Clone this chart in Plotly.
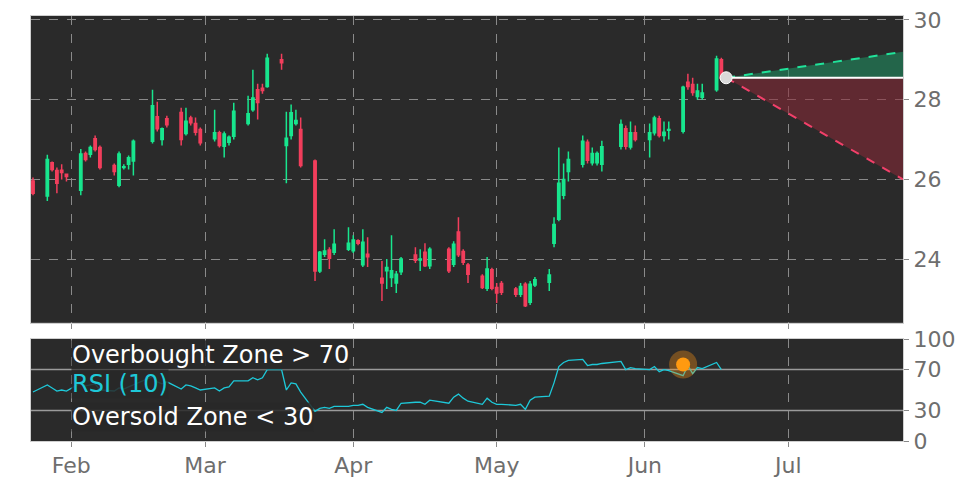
import pandas as pd
import plotly.graph_objects as go
from plotly.subplots import make_subplots

# ── daily candles ──────────────────────────────────────────────
dates = ["2025-01-24", "2025-01-27", "2025-01-28", "2025-01-29", "2025-01-30", "2025-01-31",
         "2025-02-03", "2025-02-04", "2025-02-05", "2025-02-06", "2025-02-07",
         "2025-02-10", "2025-02-11", "2025-02-12", "2025-02-13", "2025-02-14",
         "2025-02-18", "2025-02-19", "2025-02-20", "2025-02-21",
         "2025-02-24", "2025-02-25", "2025-02-26", "2025-02-27", "2025-02-28",
         "2025-03-03", "2025-03-04", "2025-03-05", "2025-03-06", "2025-03-07",
         "2025-03-10", "2025-03-11", "2025-03-12", "2025-03-13", "2025-03-14",
         "2025-03-17", "2025-03-18", "2025-03-19", "2025-03-20", "2025-03-21",
         "2025-03-24", "2025-03-25", "2025-03-26", "2025-03-27", "2025-03-28",
         "2025-03-31", "2025-04-01", "2025-04-02", "2025-04-03", "2025-04-04",
         "2025-04-07", "2025-04-08", "2025-04-09", "2025-04-10", "2025-04-11",
         "2025-04-14", "2025-04-15", "2025-04-16", "2025-04-17",
         "2025-04-21", "2025-04-22", "2025-04-23", "2025-04-24", "2025-04-25",
         "2025-04-28", "2025-04-29", "2025-04-30", "2025-05-01", "2025-05-02",
         "2025-05-05", "2025-05-06", "2025-05-07", "2025-05-08", "2025-05-09",
         "2025-05-12", "2025-05-13", "2025-05-14", "2025-05-15", "2025-05-16",
         "2025-05-19", "2025-05-20", "2025-05-21", "2025-05-22", "2025-05-23",
         "2025-05-27", "2025-05-28", "2025-05-29", "2025-05-30",
         "2025-06-02", "2025-06-03", "2025-06-04", "2025-06-05", "2025-06-06",
         "2025-06-09", "2025-06-10", "2025-06-11", "2025-06-12", "2025-06-13",
         "2025-06-16", "2025-06-17"]
opens = [25.96, 25.58, 26.42, 26.22, 26.23, 26.13,
         25.73, 26.65, 26.63, 27.02, 26.80,
         26.35, 25.85, 26.30, 26.38, 26.46,
         26.96, 27.57, 27.00, 27.52,
         27.68, 27.15, 27.54, 27.40, 27.25,
         27.02, 27.17, 26.83, 26.93, 27.08,
         27.40, 27.75, 28.25, 28.29, 28.33,
         29.00, 26.85, 27.10, 27.40, 27.25,
         26.46, 23.70, 24.12, 24.23, 24.17,
         24.25, 24.21, 24.46, 23.86, 24.12,
         23.52, 23.71, 23.54, 23.40, 23.68,
         24.10, 23.98, 24.17, 23.83,
         24.25, 23.87, 24.68, 24.19, 23.85,
         23.57, 23.27, 23.73, 23.29, 23.39,
         23.25, 23.12, 23.37, 22.92, 23.35,
         23.42, 24.40, 25.00, 25.60, 26.20,
         26.38, 26.93, 26.42, 26.42, 26.38,
         26.83, 27.27, 26.81, 27.17,
         27.00, 27.17, 27.52, 27.10, 27.23,
         27.21, 28.44, 28.38, 28.08, 28.06,
         28.25, 29.00]
highs = [26.05, 26.62, 26.45, 26.30, 26.38, 26.15,
         26.76, 26.70, 26.85, 27.10, 26.85,
         26.40, 26.70, 26.38, 26.60, 27.00,
         28.25, 27.95, 27.30, 27.60,
         27.80, 27.80, 27.60, 27.55, 27.30,
         27.75, 27.22, 27.20, 27.10, 27.92,
         28.10, 28.75, 28.40, 28.40, 29.15,
         29.15, 27.70, 27.88, 27.75, 27.55,
         26.50, 24.20, 24.50, 24.30, 24.75,
         24.80, 24.60, 24.50, 24.75, 24.55,
         23.95, 24.00, 24.60, 23.70, 24.05,
         24.30, 24.25, 24.40, 24.30,
         24.30, 24.45, 25.05, 24.25, 23.90,
         23.62, 24.05, 23.78, 23.40, 23.45,
         23.30, 23.40, 23.42, 23.45, 23.55,
         23.75, 25.05, 26.80, 26.40, 26.70,
         27.10, 27.00, 26.80, 26.70, 26.97,
         27.50, 27.35, 27.45, 27.35,
         27.40, 27.60, 27.60, 27.45, 27.45,
         28.35, 28.65, 28.55, 28.40, 28.40,
         29.10, 29.05]
lows = [25.60, 25.46, 26.20, 25.65, 26.00, 25.95,
        25.60, 26.45, 26.55, 26.70, 26.25,
        26.10, 25.80, 26.25, 26.25, 26.10,
        26.90, 27.20, 26.85, 27.30,
        26.85, 27.10, 27.35, 27.10, 26.85,
        26.95, 26.80, 26.55, 26.85, 27.00,
        27.35, 27.70, 27.50, 28.15, 28.30,
        28.75, 25.90, 27.00, 27.35, 26.30,
        23.45, 23.65, 24.05, 23.75, 24.10,
        24.20, 24.15, 24.35, 23.80, 23.80,
        22.95, 23.25, 23.30, 23.15, 23.60,
        23.90, 23.70, 23.80, 23.75,
        23.65, 23.80, 24.05, 23.85, 23.40,
        23.25, 23.20, 23.22, 22.90, 23.10,
        23.05, 23.05, 22.80, 22.85, 23.30,
        23.20, 24.30, 24.95, 25.50, 25.95,
        26.30, 26.40, 26.35, 26.35, 26.20,
        26.75, 26.75, 26.75, 26.95,
        26.55, 27.10, 27.05, 26.95, 27.00,
        27.15, 28.25, 28.10, 28.00, 28.00,
        28.20, 28.50]
closes = [25.65, 26.50, 26.25, 25.90, 26.17, 26.07,
          26.64, 26.50, 26.80, 26.75, 26.30,
          26.20, 26.64, 26.32, 26.54, 26.96,
          27.85, 27.27, 27.27, 27.37,
          27.00, 27.46, 27.42, 27.18, 26.92,
          27.17, 26.85, 27.14, 27.06, 27.71,
          27.65, 28.04, 27.93, 28.23, 29.04,
          28.93, 27.03, 27.67, 27.48, 26.35,
          23.70, 24.17, 24.20, 24.02, 24.37,
          24.40, 24.48, 24.40, 24.42, 24.06,
          23.40, 23.79, 23.71, 23.62, 24.00,
          23.97, 24.00, 23.83, 24.25,
          23.71, 24.37, 24.11, 23.92, 23.62,
          23.29, 23.75, 23.27, 23.15, 23.17,
          23.12, 23.31, 22.83, 23.37, 23.48,
          23.60, 24.87, 25.90, 26.00, 26.50,
          26.96, 26.48, 26.65, 26.65, 26.82,
          27.38, 26.83, 27.17, 27.00,
          27.17, 27.54, 27.10, 27.18, 27.25,
          28.31, 28.33, 28.18, 28.22, 28.17,
          29.02, 28.54]
rsi = [48, 55, 52, 49, 50, 49,
       57, 54, 55, 56, 50,
       49, 52, 51, 53, 55,
       63, 58, 56, 58,
       51, 55, 54, 52, 50,
       52, 49, 52, 53, 59,
       59, 62, 60, 62, 70,
       70, 50, 57, 56, 48,
       29, 32, 33, 32, 34,
       34, 35, 35, 36, 33,
       28, 33, 31, 30, 37,
       38, 38, 36, 40,
       37, 43, 46, 42, 39,
       36, 42, 38, 36, 36,
       35, 36, 31, 40, 43,
       44, 57, 73, 77, 79,
       80, 74, 75, 75, 76,
       78, 70, 72, 71,
       70, 73, 68, 70, 69,
       64, 74, 66, 72, 71,
       77, 70]

# forecast cone
fc_start = "2025-06-18"
fc_end = "2025-07-25"
fc_price = 28.55
fc_high = 29.2
fc_low = 26.0
rsi_marker_date = "2025-06-09"
rsi_marker_val = 75

fig = make_subplots(rows=2, cols=1, shared_xaxes=True, row_heights=[0.75, 0.25],
                    vertical_spacing=0.04)

fig.add_trace(go.Scatter(x=[fc_start, fc_end, fc_end, fc_start],
                         y=[fc_price, fc_high, fc_price, fc_price],
                         fill="toself", fillcolor="rgba(30,150,100,0.55)",
                         line=dict(width=0), mode="lines", hoverinfo="skip"), row=1, col=1)
fig.add_trace(go.Scatter(x=[fc_start, fc_end, fc_end, fc_start],
                         y=[fc_price, fc_price, fc_low, fc_price],
                         fill="toself", fillcolor="rgba(140,40,55,0.55)",
                         line=dict(width=0), mode="lines", hoverinfo="skip"), row=1, col=1)
fig.add_trace(go.Scatter(x=[fc_start, fc_end], y=[fc_price, fc_high], mode="lines",
                         line=dict(color="#20e39a", width=2, dash="dash")), row=1, col=1)
fig.add_trace(go.Scatter(x=[fc_start, fc_end], y=[fc_price, fc_low], mode="lines",
                         line=dict(color="#f2406a", width=2, dash="dash")), row=1, col=1)
fig.add_trace(go.Scatter(x=[fc_start, fc_end], y=[fc_price, fc_price], mode="lines",
                         line=dict(color="white", width=2)), row=1, col=1)

fig.add_trace(go.Candlestick(x=pd.to_datetime(dates), open=opens, high=highs, low=lows, close=closes,
                             increasing=dict(line=dict(color="#18e68e", width=1.5), fillcolor="#18e68e"),
                             decreasing=dict(line=dict(color="#f23e5c", width=1.5), fillcolor="#f23e5c"),
                             whiskerwidth=0), row=1, col=1)
fig.add_trace(go.Scatter(x=[fc_start], y=[fc_price], mode="markers",
                         marker=dict(color="#d9d9d9", size=12, line=dict(color="white", width=1))),
              row=1, col=1)

# RSI panel
fig.add_trace(go.Scatter(x=pd.to_datetime(dates), y=rsi, mode="lines",
                         line=dict(color="#1ec8d8", width=1.3)), row=2, col=1)
fig.add_trace(go.Scatter(x=[rsi_marker_date], y=[rsi_marker_val], mode="markers",
                         marker=dict(color="rgba(255,150,20,0.35)", size=28)), row=2, col=1)
fig.add_trace(go.Scatter(x=[rsi_marker_date], y=[rsi_marker_val], mode="markers",
                         marker=dict(color="#ff9a10", size=14)), row=2, col=1)
for lvl in (70, 30):
    fig.add_hline(y=lvl, line=dict(color="#9a9a9a", width=1.5), row=2, col=1, layer="below")

for txt, yv, col in [("Overbought Zone > 70", 84, "white"), ("RSI (10)", 56, "#1ec8d8"),
                     ("Oversold Zone < 30", 24, "white")]:
    fig.add_annotation(x="2025-02-01", y=yv, xref="x2", yref="y2", text=txt, showarrow=False,
                       xanchor="left", yanchor="middle", font=dict(size=24, color=col),
                       bgcolor="rgba(40,40,40,0.85)", borderpad=0)

axis_style = dict(showgrid=True, gridcolor="#8a8a8a", griddash="dash", gridwidth=1,
                  zeroline=False, showline=True, linecolor="#cfcfcf", mirror=True, automargin=False,
                  ticklabeloverflow="allow",
                  tickfont=dict(size=22, color="#6e6e6e"), ticks="outside", tickcolor="#888")
fig.update_xaxes(**axis_style, range=["2025-01-23 14:00", "2025-07-25"], rangeslider_visible=False,
                 dtick="M1", tickformat="%b", ticklabelmode="instant")
fig.update_xaxes(showticklabels=False, row=1, col=1)
fig.update_yaxes(**axis_style, side="right")
fig.update_yaxes(range=[22.4, 30.1], tickvals=[24, 26, 28, 30], row=1, col=1)
fig.update_yaxes(range=[0, 100], tickvals=[0, 30, 70, 100], showgrid=False, row=2, col=1)

fig.update_layout(width=972, height=486, showlegend=False, paper_bgcolor="white",
                  plot_bgcolor="#2a2a2a", margin=dict(l=23, r=77, t=8, b=53),
                  font=dict(family="DejaVu Sans"))
fig.update_layout(yaxis=dict(domain=[0.278, 1]), yaxis2=dict(domain=[0, 0.24]))

fig.write_html("out.html")
